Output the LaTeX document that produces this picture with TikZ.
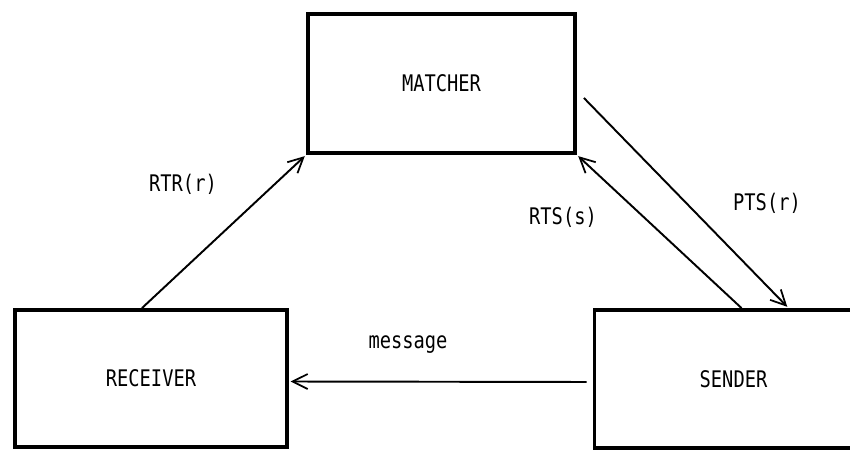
\documentclass[tikz,border=0pt]{standalone}
\usepackage{fontspec}
\usepackage{tikz}
\usetikzlibrary{calc,arrows.meta,positioning}
\newfontfamily\plotfont[FakeStretch=0.82]{DejaVu Sans Mono}
\tikzset{
  procbox/.style = {draw, line width=2.2pt, rectangle, inner sep=0pt,
                    font=\plotfont\fontsize{13}{15}\selectfont},
  msg/.style     = {-{Straight Barb[length=3mm,width=3mm,line width=1pt]},
                    line width=1.1pt, shorten >=1pt},
  msglab/.style  = {font=\plotfont\fontsize{13}{15}\selectfont},
}
\begin{document}
\begin{tikzpicture}
  \clip (0,0) rectangle (17,9);
  \useasboundingbox (0,0) rectangle (17,9);
  \node[procbox, minimum width=5.34cm, minimum height=2.78cm] (match) at (8.83, 7.33) {MATCHER};
  \node[procbox, minimum width=5.44cm, minimum height=2.74cm] (rcv) at (3.02, 1.43) {RECEIVER};
  \node[procbox, minimum width=5.56cm, minimum height=2.76cm] (snd) at (14.67, 1.42) {SENDER};
  \node[msglab] (rtr) at (3.66, 5.32) {RTR(r)};
  \node[msglab] (rts) at (11.26, 4.66) {RTS(s)};
  \node[msglab] (pts) at (15.34, 4.94) {PTS(r)};
  \node[msglab] (mess) at (8.16, 2.1) {message};
   \draw[msg] ([xshift=-0.18cm]rcv.north) to (match.south west) ;
   \draw[msg] ([xshift=0.16cm]snd.north) to (match.south east) ;
   \draw[msg] ([xshift=0.14cm,yshift=-0.29cm]match.east) to ([xshift=1.1cm]snd.north) ;
   \draw[msg, shorten <=0.12cm] ([yshift=-0.06cm]snd.west) to ([yshift=-0.06cm]rcv.east) ;
 \end{tikzpicture}
\end{document}
